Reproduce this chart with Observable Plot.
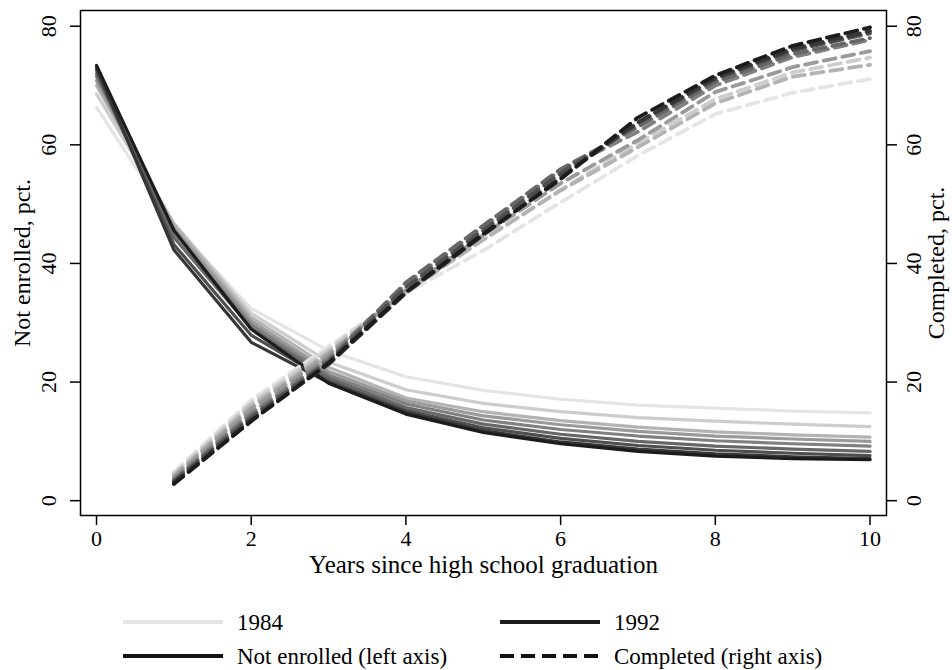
<!DOCTYPE html>
<html>
<head>
<meta charset="utf-8">
<script src="https://cdn.jsdelivr.net/npm/d3@7"></script>
<script src="https://cdn.jsdelivr.net/npm/@observablehq/plot@0.6"></script>
<style>
  html, body { margin: 0; padding: 0; background: #fff; }
  body { width: 952px; height: 670px; overflow: hidden; font-family: "Liberation Serif", "DejaVu Serif", serif; }
  #legend { position: relative; width: 952px; height: 80px; }
  .item { position: absolute; display: flex; align-items: center; font-size: 23px; color: #000; line-height: 1; }
  .item svg { margin-right: 14px; }
</style>
</head>
<body>
<div id="chart"></div>
<div id="legend"></div>
<script>
// ---- data ----
const cohorts = ["1984", "1985", "1986", "1987", "1988", "1989", "1990", "1991", "1992"];
const grays = ["#e4e4e4", "#cdcdcd", "#b3b3b3", "#9a9a9a", "#808080", "#676767", "#4e4e4e", "#363636", "#1c1c1c"];

const yearsNotEnrolled = [0, 1, 2, 3, 4, 5, 6, 7, 8, 9, 10];
const yearsCompleted = [1, 2, 3, 4, 5, 6, 7, 8, 9, 10];

// Not enrolled, pct. (left axis)
const notEnrolled1984 = [66.3, 46.4, 32.4, 25.3, 20.9, 18.6, 17.1, 16.1, 15.6, 15.1, 14.8];
const notEnrolled1985 = [68.6, 46.8, 31.6, 23.4, 18.7, 16.4, 15.0, 14.0, 13.4, 12.9, 12.5];
const notEnrolled1986 = [70.0, 46.6, 30.9, 22.5, 17.3, 15.0, 13.5, 12.4, 11.6, 11.1, 10.7];
const notEnrolled1987 = [70.8, 46.0, 30.3, 21.8, 16.8, 14.3, 12.8, 11.7, 10.9, 10.4, 10.0];
const notEnrolled1988 = [71.5, 45.2, 29.7, 21.2, 16.3, 13.6, 12.0, 10.9, 10.1, 9.6, 9.2];
const notEnrolled1989 = [72.0, 44.4, 29.1, 20.7, 15.7, 12.9, 11.2, 10.0, 9.2, 8.7, 8.3];
const notEnrolled1990 = [72.6, 43.2, 27.9, 20.2, 15.2, 12.3, 10.5, 9.3, 8.5, 8.0, 7.6];
const notEnrolled1991 = [73.0, 42.3, 26.7, 19.9, 14.9, 11.8, 9.9, 8.7, 7.9, 7.4, 7.1];
const notEnrolled1992 = [73.4, 45.6, 28.9, 19.8, 14.6, 11.5, 9.6, 8.3, 7.5, 7.1, 6.9];

// Completed, pct. (right axis)
const completed1984 = [4.8, 17.0, 26.0, 35.0, 42.2, 50.3, 58.2, 65.2, 68.8, 71.1];
const completed1985 = [4.5, 16.5, 25.5, 35.3, 44.0, 52.4, 60.3, 67.7, 72.2, 74.7];
const completed1986 = [4.2, 16.0, 25.0, 35.2, 44.0, 52.3, 59.6, 67.0, 71.5, 73.5];
const completed1987 = [4.0, 15.5, 24.6, 35.6, 44.8, 53.5, 60.8, 68.9, 73.1, 75.8];
const completed1988 = [3.6, 14.8, 24.0, 36.5, 46.2, 55.7, 62.2, 70.0, 74.8, 77.7];
const completed1989 = [3.4, 14.3, 23.6, 36.8, 46.4, 55.9, 63.0, 70.6, 75.3, 78.0];
const completed1990 = [3.2, 14.0, 23.4, 36.0, 45.6, 55.2, 63.6, 71.1, 75.9, 78.8];
const completed1991 = [3.0, 13.6, 23.0, 35.0, 44.8, 54.5, 63.8, 71.3, 76.2, 79.2];
const completed1992 = [2.8, 13.4, 23.2, 35.2, 45.0, 54.2, 64.6, 71.7, 76.7, 79.8];

const xTicks = [0, 2, 4, 6, 8, 10];
const yTicks = [0, 20, 40, 60, 80];

const xTitle = "Years since high school graduation";
const leftTitle = "Not enrolled, pct.";
const rightTitle = "Completed, pct.";
const legendCohortLabels = ["1984", "1992"];
const legendSeriesLabels = ["Not enrolled (left axis)", "Completed (right axis)"];

// ---- build tables ----
const notEnrolledSeries = [notEnrolled1984, notEnrolled1985, notEnrolled1986, notEnrolled1987, notEnrolled1988, notEnrolled1989, notEnrolled1990, notEnrolled1991, notEnrolled1992];
const completedSeries = [completed1984, completed1985, completed1986, completed1987, completed1988, completed1989, completed1990, completed1991, completed1992];

const neRows = [];
notEnrolledSeries.forEach((vals, i) => vals.forEach((v, j) => neRows.push({cohort: cohorts[i], year: yearsNotEnrolled[j], value: v})));
const cpRows = [];
completedSeries.forEach((vals, i) => vals.forEach((v, j) => cpRows.push({cohort: cohorts[i], year: yearsCompleted[j], value: v})));

const FONT = "Liberation Serif";

const chart = Plot.plot({
  width: 952,
  height: 590,
  marginLeft: 80,
  marginRight: 66,
  marginTop: 10,
  marginBottom: 75,
  x: {domain: [-0.207, 10.213]},
  y: {domain: [-2.5, 82.65]},
  color: {domain: cohorts, range: grays},
  style: {fontFamily: FONT, fontSize: "22px", color: "#000", background: "#fff"},
  marks: [
    Plot.line(neRows, {x: "year", y: "value", z: "cohort", stroke: "cohort", strokeWidth: 3.2, strokeLinejoin: "round"}),
    Plot.line(cpRows, {x: "year", y: "value", z: "cohort", stroke: "cohort", strokeWidth: 3.8, strokeDasharray: "12,7"}),
    Plot.frame({stroke: "#000", strokeWidth: 1.5}),
    Plot.axisX({ticks: xTicks, tickSize: 10, tickPadding: 5, fontSize: 22, label: null, strokeWidth: 1.5}),
    Plot.axisY({anchor: "left", ticks: yTicks, tickSize: 10, tickFormat: () => "", label: null, strokeWidth: 1.5}),
    Plot.axisY({anchor: "right", ticks: yTicks, tickSize: 10, tickFormat: () => "", label: null, strokeWidth: 1.5}),
    Plot.text(yTicks, {y: d => d, text: d => String(d), frameAnchor: "left", dx: -32, rotate: -90, textAnchor: "middle", fontSize: 22}),
    Plot.text(yTicks, {y: d => d, text: d => String(d), frameAnchor: "right", dx: 27, rotate: -90, textAnchor: "middle", fontSize: 22}),
    Plot.text([leftTitle], {text: d => d, frameAnchor: "left", dx: -58, rotate: -90, textAnchor: "middle", fontSize: 24}),
    Plot.text([rightTitle], {text: d => d, frameAnchor: "right", dx: 50, rotate: -90, textAnchor: "middle", fontSize: 24}),
    Plot.text([xTitle], {text: d => d, frameAnchor: "bottom", dy: 57, textAnchor: "middle", fontSize: 25})
  ]
});
document.getElementById("chart").appendChild(chart);

// ---- legend ----
const legend = document.getElementById("legend");
const items = [
  {label: legendCohortLabels[0], color: grays[0], dash: null, left: 123, top: 32},
  {label: legendCohortLabels[1], color: grays[grays.length - 1], dash: null, left: 500, top: 32},
  {label: legendSeriesLabels[0], color: "#111", dash: null, left: 123, top: 66},
  {label: legendSeriesLabels[1], color: "#111", dash: "14,7", left: 500, top: 66}
];
items.forEach(it => {
  const div = document.createElement("div");
  div.className = "item";
  div.style.left = it.left + "px";
  div.style.top = (it.top - 12) + "px";
  div.style.height = "24px";
  const ns = "http://www.w3.org/2000/svg";
  const svg = document.createElementNS(ns, "svg");
  svg.setAttribute("width", 100);
  svg.setAttribute("height", 8);
  const ln = document.createElementNS(ns, "line");
  ln.setAttribute("x1", 0); ln.setAttribute("x2", 100);
  ln.setAttribute("y1", 4); ln.setAttribute("y2", 4);
  ln.setAttribute("stroke", it.color);
  ln.setAttribute("stroke-width", 4);
  if (it.dash) ln.setAttribute("stroke-dasharray", it.dash);
  svg.appendChild(ln);
  const span = document.createElement("span");
  span.textContent = it.label;
  div.appendChild(svg);
  div.appendChild(span);
  legend.appendChild(div);
});
</script>
</body>
</html>
